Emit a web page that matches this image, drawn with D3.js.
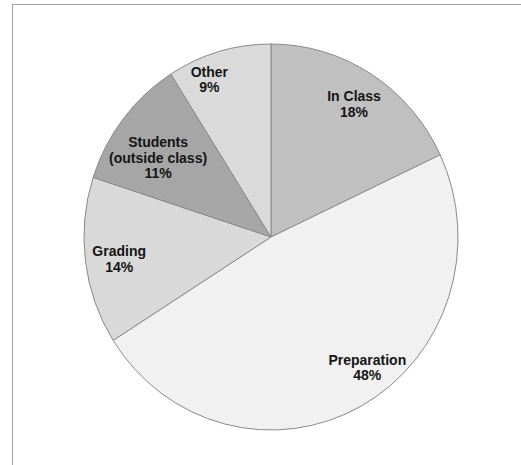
<!DOCTYPE html>
<html>
<head>
<meta charset="utf-8">
<script src="https://cdn.jsdelivr.net/npm/d3@7"></script>
<style>
  html, body { margin: 0; padding: 0; background: #fff; }
  svg { display: block; }
  .lbl { font-family: "Liberation Sans", Arial, sans-serif; font-weight: bold; font-size: 14px; fill: #151515; }
</style>
</head>
<body>
<div id="chart"></div>
<script>
// slices, clockwise from 12 o'clock
const categories = ["In Class", "Preparation", "Grading", "Students\n(outside class)", "Other"];
const shares = [18, 48, 14, 11, 9];

// styling / label layout (not data)
const fills = ["#c0c0c0", "#f1f1f1", "#d9d9d9", "#a6a6a6", "#dadada"];
const labelK = [0.82, 0.85, 0.82, 0.73, 0.88];      // label distance, fraction of radius
const labelNudge = [0.4, -8.5, -0.8, -3.6, -5.8];   // degrees off the bisector

const width = 521, height = 465;
const cx = 271, cy = 237, r = 193, sx = 187 / 193;

const svg = d3.select("#chart").append("svg")
    .attr("width", width)
    .attr("height", height);

// frame (only top and left edges show in the crop)
svg.append("rect")
    .attr("x", 12.5).attr("y", 4.5)
    .attr("width", 700).attr("height", 700)
    .attr("fill", "none")
    .attr("stroke", "#a0a0a0");

let pie = d3.pie().sort(null).value(d => d);
let arcs = pie(shares);
let arc = d3.arc().innerRadius(0).outerRadius(r);

let g = svg.append("g")
    .attr("transform", `translate(${cx},${cy}) scale(${sx},1)`);

g.selectAll("path")
    .data(arcs)
    .join("path")
    .attr("d", arc)
    .attr("fill", (d, i) => fills[i])
    .attr("stroke", "#8a8a8a")
    .attr("stroke-width", 1)
    .attr("vector-effect", "non-scaling-stroke");

let lineH = 15.5, capH = 10;

let labels = svg.selectAll("text.lbl")
    .data(arcs)
    .join("text")
    .attr("class", "lbl")
    .attr("text-anchor", "middle")
    .each(function(d, i) {
        let a = (d.startAngle + d.endAngle) / 2 + labelNudge[i] * Math.PI / 180;
        let rr = r * labelK[i];
        let px = cx + Math.sin(a) * rr * sx;
        let py = cy - Math.cos(a) * rr;
        let lines = categories[i].split("\n").concat([shares[i] + "%"]);
        let y0 = py - (lines.length - 1) * lineH / 2 + capH / 2;
        let t = d3.select(this);
        lines.forEach((s, j) => {
            t.append("tspan")
                .attr("x", px)
                .attr("y", y0 + j * lineH)
                .text(s);
        });
    });
</script>
</body>
</html>
